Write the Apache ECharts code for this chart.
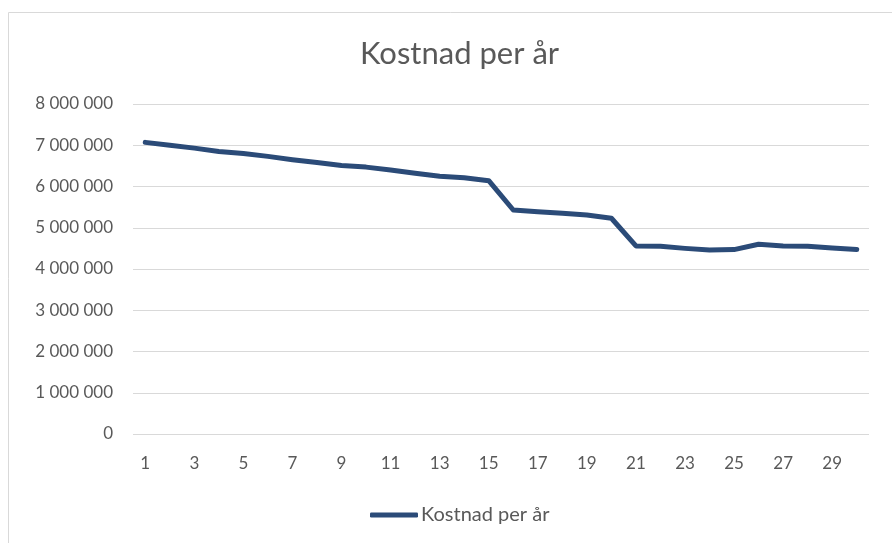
<!DOCTYPE html>
<html>
<head>
<meta charset="utf-8">
<script src="https://cdn.jsdelivr.net/npm/echarts@6/dist/echarts.min.js"></script>
<style>html,body{margin:0;padding:0;background:#fff}#c{width:892px;height:543px}</style>
</head>
<body>
<div id="c"></div>
<script>
const titleText = "Kostnad per år";
const seriesName = "Kostnad per år";
const categories = ["1","2","3","4","5","6","7","8","9","10","11","12","13","14","15","16","17","18","19","20","21","22","23","24","25","26","27","28","29","30"];
const values = [7070000,7000000,6930000,6850000,6800000,6730000,6650000,6580000,6510000,6470000,6400000,6320000,6250000,6210000,6140000,5430000,5390000,5350000,5310000,5230000,4560000,4550000,4500000,4460000,4470000,4600000,4560000,4550000,4510000,4470000];
const yMin = 0, yMax = 8000000, yStep = 1000000;

const chart = echarts.init(document.getElementById('c'), null, {renderer:'canvas'});
const fmt = v => String(v).replace(/\B(?=(\d{3})+(?!\d))/g, ' ');
const FF = 'Lato, "Open Sans", sans-serif';
chart.setOption({
  animation:false,
  textStyle:{fontFamily:FF},
  graphic:[{type:'rect',shape:{x:8.5,y:12.5,width:900,height:540},style:{fill:'none',stroke:'#d9d9d9',lineWidth:1},silent:true}],
  title:{text:titleText,left:355,top:33,itemGap:0,textStyle:{fontSize:31,fontWeight:'normal',color:'#595959',fontFamily:FF}},
  grid:{left:133,right:23,top:104,bottom:109,containLabel:false},
  legend:{bottom:13,left:365,itemWidth:48,itemHeight:5,itemGap:6,icon:'roundRect',
    textStyle:{fontSize:20,color:'#595959',padding:[0,0,0,-2],fontFamily:FF},data:[seriesName]},
  xAxis:{type:'category',data:categories,boundaryGap:true,
    axisLine:{show:false},axisTick:{show:false},
    axisLabel:{interval:1,color:'#595959',fontSize:17,margin:21,fontFamily:FF}},
  yAxis:{type:'value',min:yMin,max:yMax,interval:yStep,
    axisLine:{show:false},axisTick:{show:false},
    splitLine:{lineStyle:{color:'#d9d9d9',width:1}},
    axisLabel:{formatter:fmt,color:'#595959',fontSize:17,margin:20,fontFamily:FF}},
  series:[{name:seriesName,type:'line',data:values,showSymbol:false,symbol:'none',
    lineStyle:{color:'#2b4b78',width:5,cap:'round',join:'round'},itemStyle:{color:'#2b4b78'}}]
});
</script>
</body>
</html>
